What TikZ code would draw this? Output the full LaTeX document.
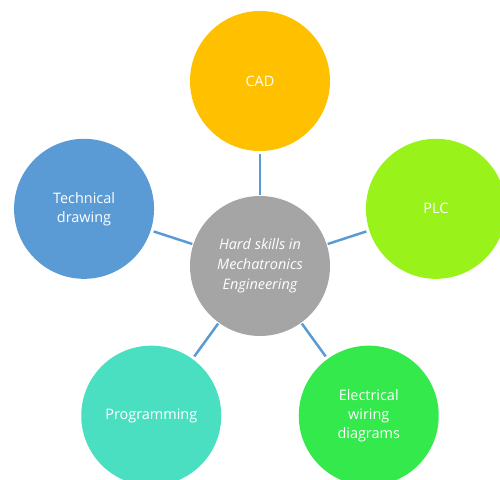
\documentclass[tikz,border=0pt]{standalone}
\usepackage{fontspec}
\setmainfont{Open Sans}
\usepackage{xcolor}
\usepackage{tikz}
\usetikzlibrary{positioning}

\definecolor{hubgray}{HTML}{A5A5A5}
\definecolor{linkblue}{HTML}{5B9BD5}
\definecolor{cadyellow}{HTML}{FFC000}
\definecolor{plcgreen}{HTML}{99F31B}
\definecolor{techblue}{HTML}{5B9BD5}
\definecolor{progteal}{HTML}{4ADFC1}
\definecolor{elecgreen}{HTML}{33E94B}

\begin{document}
\begin{tikzpicture}[
  x=1bp, y=1bp,
  hub/.style={circle, fill=hubgray, minimum size=140bp, inner sep=0pt,
    align=center, text=white, font=\fontsize{14.5}{20}\selectfont\itshape},
  skill/.style={circle, minimum size=140bp, inner sep=0pt,
    align=center, text=white, font=\fontsize{14.5}{19}\selectfont},
  link/.style={draw=linkblue, line width=2.5bp, shorten <=1bp, shorten >=3bp}
]
\clip (-260,-214) rectangle (240,266);
\node[hub] (hub) at (0,0) {Hard skills in\\Mechatronics\\Engineering};
\node[skill, fill=cadyellow] (cad) at (90:185) {CAD};
\node[skill, fill=plcgreen] (plc) at (18:185) {PLC};
\node[skill, fill=elecgreen] (wiring) at (-54:185) {Electrical\\wiring\\diagrams};
\node[skill, fill=progteal] (prog) at (234:185) {Programming};
\node[skill, fill=techblue] (techdraw) at (162:185) {Technical\\drawing};
\draw[link] (hub) -- (cad);
\draw[link] (hub) -- (plc);
\draw[link] (hub) -- (wiring);
\draw[link] (hub) -- (prog);
\draw[link] (hub) -- (techdraw);
\end{tikzpicture}
\end{document}
